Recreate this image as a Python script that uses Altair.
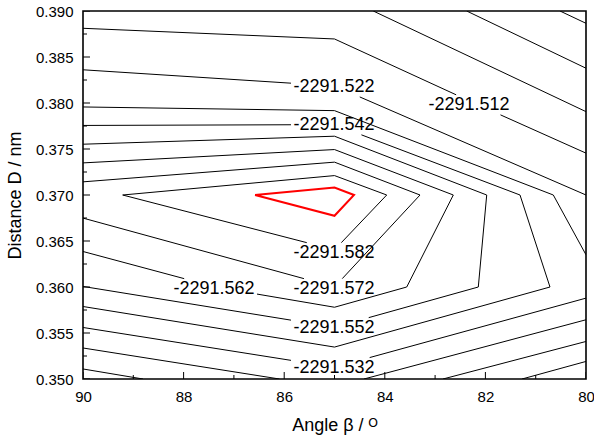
import altair as alt
import pandas as pd

FONT = "Liberation Sans, Arial, Helvetica, sans-serif"

# ---- contour pieces: (angle beta in degrees, distance D in nm) ----
c482     = [(80.517, 0.39000), (80.000, 0.38866)]
c492     = [(82.372, 0.39000), (80.000, 0.38378)]
c502_top = [(84.229, 0.39000), (80.000, 0.37906)]
c502_bot = [(81.272, 0.35000), (80.000, 0.35191)]
c512_top = [(90.000, 0.38812), (85.000, 0.38696), (82.227, 0.38000), (80.000, 0.37455)]
c512_bl  = [(90.000, 0.35109), (88.807, 0.35000)]
c512_br  = [(82.843, 0.35000), (80.000, 0.35408)]
c522_top = [(90.000, 0.38361), (85.000, 0.38185), (80.000, 0.37000)]
c522_bl  = [(90.000, 0.35337), (86.095, 0.35000)]
c522_br  = [(84.414, 0.35000), (80.000, 0.35644)]
c532_top = [(90.000, 0.37957), (85.000, 0.37917), (80.650, 0.37000), (80.000, 0.36350)]
c532_bot = [(90.000, 0.35560), (85.000, 0.35128), (80.000, 0.35879)]
c542     = [(90.000, 0.37756), (85.000, 0.37765), (81.312, 0.37000), (80.716, 0.36000),
            (85.000, 0.35347), (90.000, 0.35788)]
c552     = [(90.000, 0.37552), (85.000, 0.37639), (81.974, 0.37000), (82.141, 0.36000),
            (85.000, 0.35563), (90.000, 0.36006)]
c562     = [(90.000, 0.37349), (85.000, 0.37494), (82.638, 0.37000), (83.564, 0.36000),
            (85.000, 0.35780), (87.368, 0.36000), (90.000, 0.36386)]
c572     = [(90.000, 0.37143), (85.000, 0.37357), (83.300, 0.37000), (85.000, 0.36000),
            (90.000, 0.36749)]
c582     = [(89.211, 0.37000), (85.000, 0.37211), (83.962, 0.37000), (85.000, 0.36404),
            (89.211, 0.37000)]
c592     = [(86.580, 0.37000), (85.000, 0.37081), (84.612, 0.37000), (85.000, 0.36774),
            (86.580, 0.37000)]   # innermost contour, drawn in red

pieces = {
    "c482": c482, "c492": c492, "c502_top": c502_top, "c502_bot": c502_bot,
    "c512_top": c512_top, "c512_bl": c512_bl, "c512_br": c512_br,
    "c522_top": c522_top, "c522_bl": c522_bl, "c522_br": c522_br,
    "c532_top": c532_top, "c532_bot": c532_bot, "c542": c542, "c552": c552,
    "c562": c562, "c572": c572, "c582": c582, "c592": c592,
}

# ---- contour labels ----
label_text = ["-2291.512", "-2291.522", "-2291.542", "-2291.582",
              "-2291.572", "-2291.562", "-2291.552", "-2291.532"]
label_x    = [82.326, 85.01, 85.01, 85.01, 85.01, 87.396, 85.01, 85.01]
label_y    = [0.37990, 0.38185, 0.37773, 0.36383, 0.35992, 0.35992, 0.35568, 0.35134]
label_on   = ["c512_top", "c522_top", "c542", "c582", "c572", "c562", "c552", "c532_bot"]

# ---- axis ticks ----
x_major = [90, 88, 86, 84, 82, 80]
x_minor = [89, 87, 85, 83, 81]
y_major = [0.350, 0.355, 0.360, 0.365, 0.370, 0.375, 0.380, 0.385, 0.390]
y_minor = [0.3525, 0.3575, 0.3625, 0.3675, 0.3725, 0.3775, 0.3825, 0.3875]

# half size of the gap left in a line around its label (data units)
HW, HH = 0.855, 0.00109


def clip_out(pts, cx, cy, hw, hh):
    """Split a polyline, leaving out the part inside the label box."""
    runs, cur, open_end = [], [], False
    for (x0, y0), (x1, y1) in zip(pts[:-1], pts[1:]):
        dx, dy = x1 - x0, y1 - y0
        t0, t1, hit = 0.0, 1.0, True
        for p, q in ((-dx, x0 - (cx - hw)), (dx, (cx + hw) - x0),
                     (-dy, y0 - (cy - hh)), (dy, (cy + hh) - y0)):
            if p == 0:
                if q < 0:
                    hit = False
            else:
                t = q / p
                if p < 0:
                    t0 = max(t0, t)
                else:
                    t1 = min(t1, t)
        if not hit or t0 >= t1:
            parts = [(0.0, 1.0)]
        else:
            parts = []
            if t0 > 0:
                parts.append((0.0, t0))
            if t1 < 1:
                parts.append((t1, 1.0))
        seg_open = False
        for a, b in parts:
            pa = (x0 + dx * a, y0 + dy * a)
            pb = (x1, y1) if b == 1.0 else (x0 + dx * b, y0 + dy * b)
            if a == 0.0 and cur and open_end:
                cur.append(pb)
            else:
                if len(cur) >= 2:
                    runs.append(cur)
                cur = [pa, pb]
            if b < 1.0:
                if len(cur) >= 2:
                    runs.append(cur)
                cur = []
                seg_open = False
            else:
                seg_open = True
        open_end = seg_open
    if len(cur) >= 2:
        runs.append(cur)
    return runs


rows = []
for name, pts in pieces.items():
    runs = [pts]
    for lx, ly, on in zip(label_x, label_y, label_on):
        if on != name:
            continue
        new_runs = []
        for r in runs:
            new_runs += clip_out(r, lx, ly - 0.0001, HW, HH)
        runs = new_runs
    for k, r in enumerate(runs):
        for i, (x, y) in enumerate(r):
            rows.append({"x": x, "y": y, "run": f"{name}_{k}", "i": i,
                         "red": name == "c592"})
lines_df = pd.DataFrame(rows)

X = alt.X("x:Q",
          scale=alt.Scale(domain=[80, 90], reverse=True, nice=False, zero=False),
          axis=alt.Axis(values=x_major, format="d", ticks=False, tickSize=0, domain=False,
                        grid=False, labelFlush=False, labelOverlap=False,
                        labelFont=FONT, labelFontSize=15, labelColor="black",
                        labelPadding=10, title="Angle β / ᴼ", titleFont=FONT,
                        titleFontSize=18, titleFontWeight="normal", titleColor="black",
                        titlePadding=12))
Y = alt.Y("y:Q",
          scale=alt.Scale(domain=[0.35, 0.39], nice=False, zero=False),
          axis=alt.Axis(values=y_major, format=".3f", ticks=False, tickSize=0, domain=False,
                        grid=False, labelFlush=False, labelOverlap=False,
                        labelFont=FONT, labelFontSize=15, labelColor="black",
                        labelPadding=10, title="Distance D / nm", titleFont=FONT,
                        titleFontSize=18, titleFontWeight="normal", titleColor="black",
                        titlePadding=11))

black_lines = alt.Chart(lines_df[~lines_df["red"]]).mark_line(
    color="black", strokeWidth=1, clip=True
).encode(x=X, y=Y, detail="run:N", order="i:Q")

red_line = alt.Chart(lines_df[lines_df["red"]]).mark_line(
    color="#ff0000", strokeWidth=2, clip=True
).encode(x=X, y=Y, detail="run:N", order="i:Q")

labels = alt.Chart(pd.DataFrame({"x": label_x, "y": label_y, "t": label_text})).mark_text(
    font=FONT, fontSize=18, align="center", baseline="middle", dy=1, color="black"
).encode(x=X, y=Y, text="t:N")

xt_major = alt.Chart(pd.DataFrame({"x": x_major, "y": [0.35] * len(x_major)})).mark_tick(
    orient="vertical", size=14, thickness=1, color="black", clip=True, opacity=1
).encode(x=X, y=Y)
xt_minor = alt.Chart(pd.DataFrame({"x": x_minor, "y": [0.35] * len(x_minor)})).mark_tick(
    orient="vertical", size=8, thickness=1, color="black", clip=True, opacity=1
).encode(x=X, y=Y)
yt_major = alt.Chart(pd.DataFrame({"x": [90] * len(y_major), "y": y_major})).mark_tick(
    orient="horizontal", size=14, thickness=1, color="black", clip=True, opacity=1
).encode(x=X, y=Y)
yt_minor = alt.Chart(pd.DataFrame({"x": [90] * len(y_minor), "y": y_minor})).mark_tick(
    orient="horizontal", size=8, thickness=1, color="black", clip=True, opacity=1
).encode(x=X, y=Y)

chart = alt.layer(
    black_lines, red_line, xt_major, xt_minor, yt_major, yt_minor, labels
).properties(
    width=503, height=368,
    padding={"left": 83, "top": 11, "right": 8, "bottom": 60},
    autosize=alt.AutoSizeParams(type="none"),
    background="white",
).configure_view(stroke="black", strokeWidth=1.6)

chart.save("out.html", embed_options={"renderer": "svg", "actions": False})
